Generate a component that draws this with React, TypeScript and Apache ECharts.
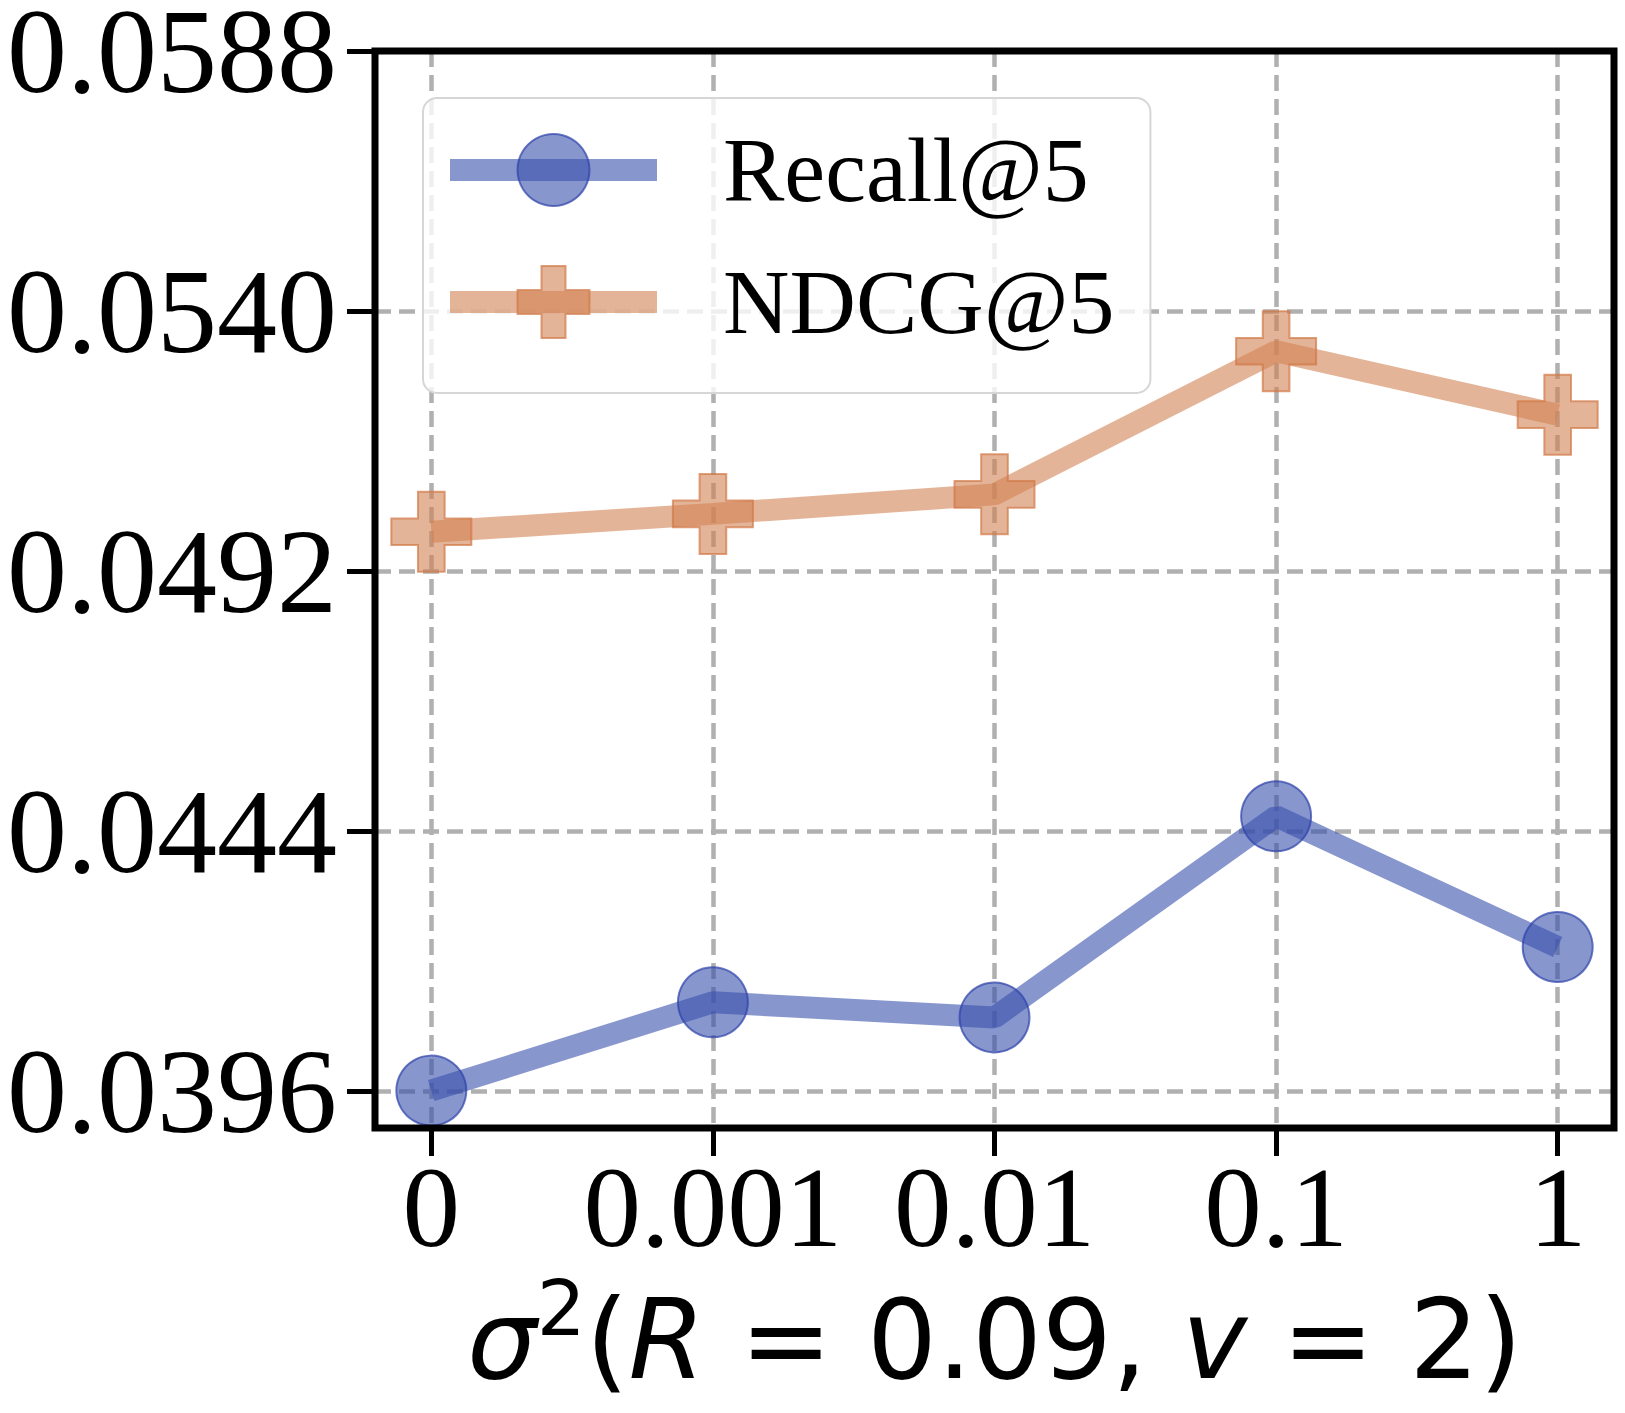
import React, { useEffect, useRef } from 'react';
import * as echarts from 'echarts';

const categories = ['0', '0.001', '0.01', '0.1', '1'];
const xPositions = [0, 1, 2, 3, 4];
const recall = [0.03962, 0.04125, 0.04097, 0.04468, 0.04227];
const ndcg = [0.04993, 0.05026, 0.05062, 0.05326, 0.05209];
const yTicks = [0.0396, 0.0444, 0.0492, 0.054, 0.0588];
const seriesNames = ['Recall@5', 'NDCG@5'];

const PLUS = 'path://M1,0H2V1H3V2H2V3H1V2H0V1H1Z';
const BLUE = 'rgba(57,80,173,0.6)';
const BLUE_EDGE = 'rgba(45,65,170,0.7)';
const ORANGE = 'rgba(210,130,83,0.6)';
const ORANGE_EDGE = 'rgba(210,120,70,0.7)';
const SERIF = "'Liberation Serif', 'Times New Roman', serif";
const SANS = "'DejaVu Sans', sans-serif";

export default function App() {
  const ref = useRef<HTMLDivElement>(null);
  useEffect(() => {
    document.body.style.margin = '0';
    const chart = echarts.init(ref.current as HTMLDivElement, null, { renderer: 'svg' });
    const grid = { color: '#b0b0b0', width: 4.5, type: [16, 8] as number[] };
    chart.setOption({
      animation: false,
      backgroundColor: '#fff',
      grid: {
        left: 375,
        right: 11,
        top: 51,
        bottom: 285,
        show: true,
        z: 10,
        borderColor: '#000',
        borderWidth: 7,
        backgroundColor: 'transparent',
        containLabel: false,
        outerBoundsMode: 'none',
      },
      xAxis: {
        type: 'value',
        min: -0.2,
        max: 4.2,
        axisLine: { show: false, onZero: false },
        axisTick: { show: true, customValues: xPositions, length: 28, lineStyle: { color: '#000', width: 5 } },
        axisLabel: {
          customValues: xPositions,
          formatter: (v: number) => categories[Math.round(v)],
          fontFamily: SERIF,
          fontSize: 115,
          lineHeight: 110,
          color: '#000',
          margin: 24,
        },
        splitLine: { show: true, lineStyle: grid },
        name: '{i|σ}{s|2}{n|(}{i|R}{n| = 0.09, }{i|v}{n| = 2)}',
        nameLocation: 'middle',
        nameGap: 142,
        nameTextStyle: {
          fontFamily: SANS,
          fontSize: 110,
          color: '#000',
          rich: {
            i: { fontFamily: SANS, fontSize: 110, fontStyle: 'italic', color: '#000', lineHeight: 140 },
            n: { fontFamily: SANS, fontSize: 110, color: '#000', lineHeight: 140 },
            s: { fontFamily: SANS, fontSize: 77, color: '#000', lineHeight: 62, verticalAlign: 'top' },
          },
        },
      },
      yAxis: {
        type: 'value',
        min: 0.03893,
        max: 0.0588,
        axisLine: { show: false, onZero: false },
        axisTick: { show: true, customValues: yTicks, length: 28, lineStyle: { color: '#000', width: 5 } },
        axisLabel: {
          customValues: yTicks,
          formatter: (v: number) => v.toFixed(4),
          fontFamily: SERIF,
          fontSize: 120,
          lineHeight: 100,
          color: '#000',
          margin: 38,
        },
        splitLine: { show: true, lineStyle: grid },
      },
      legend: {
        data: seriesNames,
        orient: 'vertical',
        left: 423,
        top: 98,
        padding: [26, 36, 45, 16],
        itemWidth: 207,
        itemHeight: 90,
        itemGap: 40,
        lineStyle: { width: 22 },
        backgroundColor: 'rgba(255,255,255,0.8)',
        borderColor: '#d6d6d6',
        borderWidth: 2,
        borderRadius: 14,
        textStyle: { fontFamily: SERIF, fontSize: 92, color: '#000', padding: [0, 0, 0, 61] },
      },
      series: [
        {
          name: seriesNames[0],
          type: 'line',
          data: recall.map((v, i) => [xPositions[i], v]),
          symbol: 'circle',
          symbolSize: 70,
          lineStyle: { color: BLUE, width: 22 },
          itemStyle: { color: BLUE, borderColor: BLUE_EDGE, borderWidth: 2 },
          emphasis: { disabled: true },
          z: 3,
        },
        {
          name: seriesNames[1],
          type: 'line',
          data: ndcg.map((v, i) => [xPositions[i], v]),
          symbol: PLUS,
          symbolSize: 80,
          lineStyle: { color: ORANGE, width: 22 },
          itemStyle: { color: ORANGE, borderColor: ORANGE_EDGE, borderWidth: 2 },
          emphasis: { disabled: true },
          z: 3,
        },
      ],
    });
    return () => chart.dispose();
  }, []);
  return <div ref={ref} style={{ width: 1625, height: 1413 }} />;
}
